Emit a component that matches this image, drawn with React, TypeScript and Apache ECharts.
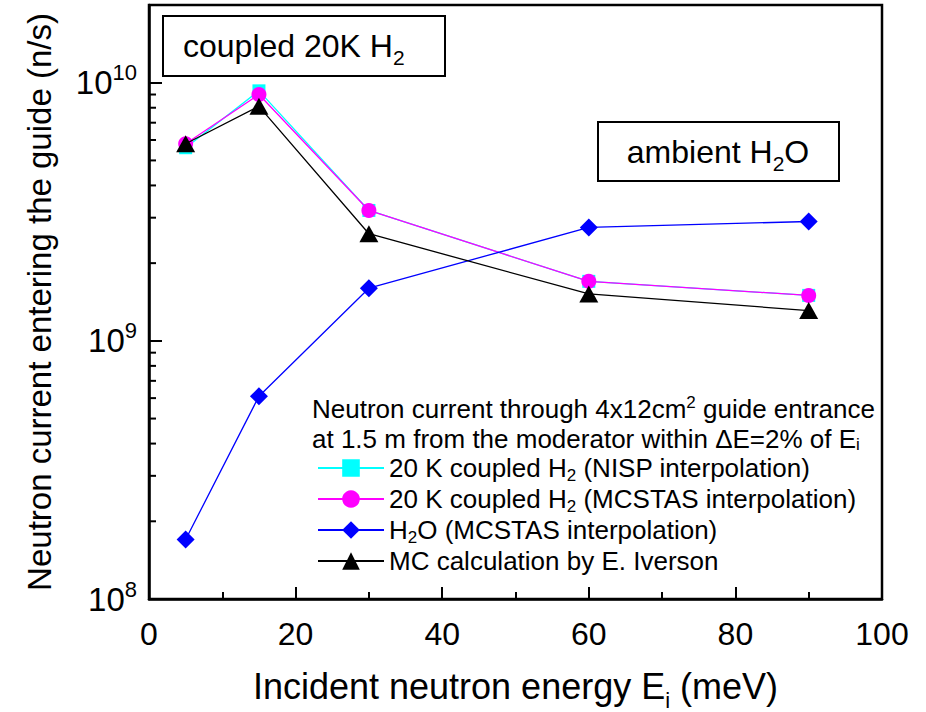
import React, { useEffect, useRef } from 'react';
import * as echarts from 'echarts';

const energies = [5, 15, 30, 60, 90];
const nispH2 = [5.6e9, 9.3e9, 3.2e9, 1.7e9, 1.5e9];
const mcstasH2 = [5.8e9, 9.0e9, 3.2e9, 1.7e9, 1.5e9];
const mcstasH2O = [1.7e8, 6.1e8, 1.6e9, 2.75e9, 2.9e9];
const iversonMC = [5.8e9, 8.1e9, 2.6e9, 1.52e9, 1.31e9];

const seriesNames = ['NISP', 'MCSTAS', 'H2O', 'MC'];
const legendLabels: Record<string, string> = {
  NISP: '{a|20 K coupled H}{sub|2}{a| (NISP interpolation)}',
  MCSTAS: '{a|20 K coupled H}{sub|2}{a| (MCSTAS interpolation)}',
  H2O: '{a|H}{sub|2}{a|O (MCSTAS interpolation)}',
  MC: '{a|MC calculation by E. Iverson}',
};
const yMinorTicks = [
  2e8, 3e8, 4e8, 5e8, 6e8, 7e8, 8e8, 9e8,
  2e9, 3e9, 4e9, 5e9, 6e9, 7e9, 8e9, 9e9,
];

const FONT = "'Liberation Sans', Arial, sans-serif";

export default function App() {
  const ref = useRef<HTMLDivElement>(null);
  useEffect(() => {
    if (!ref.current) return;
    const chart = echarts.init(ref.current, null, { renderer: 'svg' });
    const pair = (ys: number[]) => energies.map((x, i) => [x, ys[i]]);
    const option: any = {
      animation: false,
      backgroundColor: '#fff',
      textStyle: { fontFamily: FONT },
      grid: {
        left: 149, top: 5, right: 44, bottom: 113,
        show: true, borderColor: '#000', borderWidth: 2.5,
        outerBoundsMode: 'none',
      },
      xAxis: {
        type: 'value', min: 0, max: 100, interval: 20,
        axisLine: { lineStyle: { color: '#000', width: 2.5 } },
        axisTick: { inside: true, length: 12, lineStyle: { color: '#000', width: 2 } },
        minorTick: { show: true, splitNumber: 2, length: 7, lineStyle: { color: '#000', width: 2 } },
        splitLine: { show: false },
        axisLabel: { color: '#000', fontSize: 32, lineHeight: 32, margin: 19, fontFamily: FONT },
        name: '{n|Incident neutron energy E}{i|i}{n| (meV)}',
        nameLocation: 'middle', nameGap: 62,
        nameTextStyle: {
          color: '#000', fontFamily: FONT,
          rich: {
            n: { fontSize: 36, lineHeight: 50, fontFamily: FONT, color: '#000' },
            i: { fontSize: 22, lineHeight: 22, verticalAlign: 'bottom', fontFamily: FONT, color: '#000' },
          },
        },
      },
      yAxis: {
        type: 'log', logBase: 10, min: 1e8, max: 2e10,
        axisLine: { lineStyle: { color: '#000', width: 2.5 } },
        axisTick: { inside: true, length: 13, lineStyle: { color: '#000', width: 2 } },
        splitLine: { show: false },
        axisLabel: {
          margin: 12,
          formatter: (v: number) => {
            const e = Math.round(Math.log10(v));
            if (Math.abs(v - Math.pow(10, e)) / v > 1e-6) return '';
            return `{b|10}{s|${e}}`;
          },
          rich: {
            b: { fontSize: 33, lineHeight: 42, fontFamily: FONT, color: '#000' },
            s: { fontSize: 22, lineHeight: 22, verticalAlign: 'top', fontFamily: FONT, color: '#000' },
          },
        },
        name: 'Neutron current entering the guide (n/s)',
        nameLocation: 'middle', nameGap: 93,
        nameTextStyle: { color: '#000', fontSize: 33, fontFamily: FONT },
      },
      legend: {
        data: seriesNames,
        orient: 'vertical', left: 312, top: 450,
        itemWidth: 66, itemHeight: 22, itemGap: 2,
        formatter: (name: string) => legendLabels[name],
        textStyle: {
          color: '#000', fontFamily: FONT,
          rich: {
            a: { fontSize: 26, lineHeight: 32, fontFamily: FONT, color: '#000' },
            sub: { fontSize: 17, lineHeight: 17, verticalAlign: 'bottom', fontFamily: FONT, color: '#000' },
          },
        },
      },
      graphic: [
        {
          type: 'rect', z: 10,
          shape: { x: 163, y: 16, width: 282, height: 60 },
          style: { fill: '#fff', stroke: '#000', lineWidth: 2 },
        },
        {
          type: 'text', z: 11, x: 183, y: 46,
          style: {
            text: '{a|coupled 20K H}{sub|2}', verticalAlign: 'middle', fill: '#000',
            rich: {
              a: { fontSize: 32, lineHeight: 44, fontFamily: FONT, fill: '#000' },
              sub: { fontSize: 21, lineHeight: 21, verticalAlign: 'bottom', fontFamily: FONT, fill: '#000' },
            },
          },
        },
        {
          type: 'rect', z: 10,
          shape: { x: 598, y: 122, width: 241, height: 59 },
          style: { fill: '#fff', stroke: '#000', lineWidth: 2 },
        },
        {
          type: 'text', z: 11, x: 718, y: 152,
          style: {
            text: '{a|ambient H}{sub|2}{a|O}', align: 'center', verticalAlign: 'middle', fill: '#000',
            rich: {
              a: { fontSize: 32, lineHeight: 44, fontFamily: FONT, fill: '#000' },
              sub: { fontSize: 21, lineHeight: 21, verticalAlign: 'bottom', fontFamily: FONT, fill: '#000' },
            },
          },
        },
        {
          type: 'text', z: 11, x: 312, y: 409,
          style: {
            text: '{a|Neutron current through 4x12cm}{sup|2}{a| guide entrance}',
            verticalAlign: 'middle', fill: '#000',
            rich: {
              a: { fontSize: 26, lineHeight: 31, fontFamily: FONT, fill: '#000' },
              sup: { fontSize: 17, lineHeight: 17, verticalAlign: 'top', fontFamily: FONT, fill: '#000' },
            },
          },
        },
        {
          type: 'text', z: 11, x: 312, y: 439,
          style: {
            text: '{a|at 1.5 m from the moderator within ΔE=2% of E}{sub|i}',
            verticalAlign: 'middle', fill: '#000',
            rich: {
              a: { fontSize: 26, lineHeight: 28, fontFamily: FONT, fill: '#000' },
              sub: { fontSize: 17, lineHeight: 17, verticalAlign: 'bottom', fontFamily: FONT, fill: '#000' },
            },
          },
        },
      ],
      series: [
        {
          name: 'NISP', type: 'line', data: pair(nispH2),
          symbol: 'rect', symbolSize: 13,
          lineStyle: { color: '#00FFFF', width: 1.3 },
          itemStyle: { color: '#00FFFF' }, z: 2,
        },
        {
          name: 'MCSTAS', type: 'line', data: pair(mcstasH2),
          symbol: 'circle', symbolSize: 15,
          lineStyle: { color: '#FF00FF', width: 1.3 },
          itemStyle: { color: '#FF00FF' }, z: 3,
        },
        {
          name: 'H2O', type: 'line', data: pair(mcstasH2O),
          symbol: 'diamond', symbolSize: [18, 18],
          lineStyle: { color: '#0000FF', width: 1.3 },
          itemStyle: { color: '#0000FF' }, z: 4,
        },
        {
          name: 'MC', type: 'line', data: pair(iversonMC),
          symbol: 'triangle', symbolSize: [19, 17],
          lineStyle: { color: '#000000', width: 1.3 },
          itemStyle: { color: '#000000' }, z: 5,
        },
        {
          name: 'yMinor', type: 'custom', silent: true, z: 6,
          data: yMinorTicks.map((v) => [0, v]),
          renderItem: (params: any, api: any) => {
            const p = api.coord([0, api.value(1)]);
            return {
              type: 'line',
              shape: { x1: p[0], y1: p[1], x2: p[0] + 7, y2: p[1] },
              style: { stroke: '#000', lineWidth: 2 },
            };
          },
        },
      ],
    };
    chart.setOption(option);
    return () => chart.dispose();
  }, []);
  return (
    <div
      ref={ref}
      style={{ position: 'absolute', left: 0, top: 0, width: 926, height: 712 }}
    />
  );
}
